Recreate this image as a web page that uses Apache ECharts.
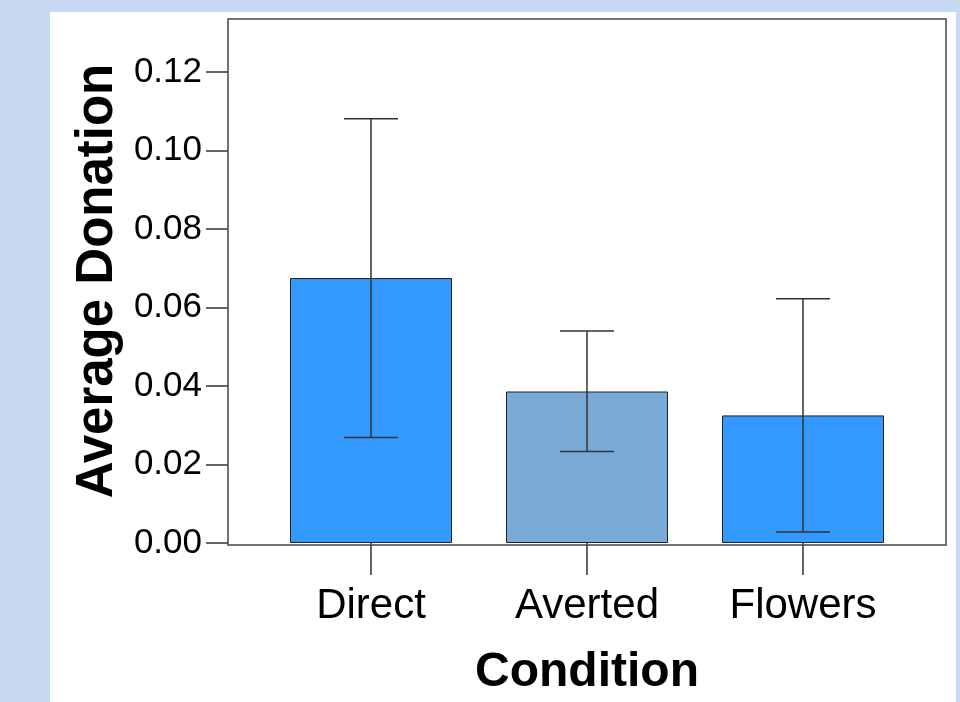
<!DOCTYPE html>
<html>
<head>
<meta charset="utf-8">
<script src="https://cdn.jsdelivr.net/npm/echarts@6/dist/echarts.min.js"></script>
<style>
html,body{margin:0;padding:0;background:#c6d9f0;}
#chart{width:960px;height:702px;}
</style>
</head>
<body>
<div id="chart"></div>
<script>
// ---- data ----
var categories = ['Direct', 'Averted', 'Flowers'];
var meanDonation = [0.0675, 0.0386, 0.0325];
var errLow = [0.0269, 0.0233, 0.0028];
var errHigh = [0.1081, 0.0540, 0.0622];
var yTicks = [0, 0.02, 0.04, 0.06, 0.08, 0.10, 0.12];
var xTitle = 'Condition';
var yTitle = 'Average Donation';

// ---- style ----
var barColors = ['#3399ff', '#79a9d6', '#3399ff'];
var FONT = '"Liberation Sans", Arial, sans-serif';

var chart = echarts.init(document.getElementById('chart'), null, {renderer: 'canvas'});

var errData = categories.map(function (c, i) { return [i, errLow[i], errHigh[i]]; });

var option = {
  backgroundColor: '#c6d9f0',
  animation: false,
  graphic: [{
    type: 'rect', z: -10, silent: true,
    shape: {x: 50, y: 12, width: 906, height: 690},
    style: {fill: '#ffffff'}
  }],
  grid: [
    {left: 263, top: 19, width: 648, height: 526, show: false},
    {left: 228, top: 19, width: 718, height: 526, show: true, borderColor: '#444', borderWidth: 1.5, backgroundColor: 'transparent', z: 5}
  ],
  xAxis: [
    {
      gridIndex: 0, type: 'category', data: categories,
      axisLine: {show: false},
      axisTick: {show: true, alignWithLabel: true, length: 32, lineStyle: {color: '#333', width: 1.5}},
      axisLabel: {color: '#000', fontFamily: FONT, fontSize: 42, margin: 42},
      name: xTitle, nameLocation: 'middle', nameGap: 106,
      nameTextStyle: {color: '#000', fontFamily: FONT, fontSize: 48, fontWeight: 'bold'}
    },
    {gridIndex: 1, type: 'value', show: false}
  ],
  yAxis: [
    {
      gridIndex: 0, type: 'value', min: 0, max: 0.1335, offset: 35,
      splitLine: {show: false},
      axisLine: {show: false},
      axisTick: {show: true, length: 22, customValues: yTicks, lineStyle: {color: '#333', width: 1.5}},
      axisLabel: {color: '#000', fontFamily: FONT, fontSize: 35, margin: 26, customValues: yTicks,
        formatter: function (v) { return v.toFixed(2); }},
      name: yTitle, nameLocation: 'middle', nameGap: 104,
      nameTextStyle: {color: '#000', fontFamily: FONT, fontSize: 51, fontWeight: 'bold'}
    },
    {gridIndex: 1, type: 'value', show: false}
  ],
  series: [
    {
      type: 'bar', xAxisIndex: 0, yAxisIndex: 0,
      data: meanDonation, barWidth: 162,
      itemStyle: {
        color: function (p) { return barColors[p.dataIndex]; },
        borderColor: '#222', borderWidth: 1
      },
      z: 2
    },
    {
      type: 'custom', xAxisIndex: 0, yAxisIndex: 0,
      data: errData, z: 3,
      encode: {x: 0, y: [1, 2]},
      renderItem: function (params, api) {
        var lo = api.coord([api.value(0), api.value(1)]);
        var hi = api.coord([api.value(0), api.value(2)]);
        var hw = 27;
        var st = {stroke: '#333', lineWidth: 1.5};
        return {
          type: 'group',
          children: [
            {type: 'line', shape: {x1: lo[0], y1: lo[1], x2: hi[0], y2: hi[1]}, style: st},
            {type: 'line', shape: {x1: lo[0] - hw, y1: lo[1], x2: lo[0] + hw, y2: lo[1]}, style: st},
            {type: 'line', shape: {x1: hi[0] - hw, y1: hi[1], x2: hi[0] + hw, y2: hi[1]}, style: st}
          ]
        };
      }
    }
  ]
};
chart.setOption(option);
</script>
</body>
</html>
